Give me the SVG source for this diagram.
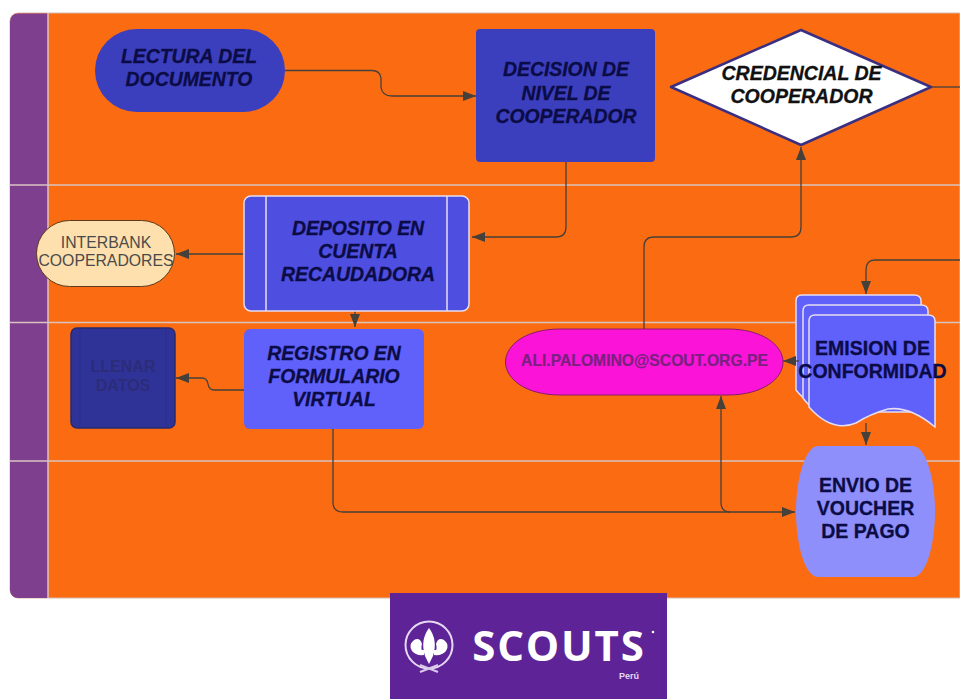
<svg xmlns="http://www.w3.org/2000/svg" width="960" height="699" viewBox="0 0 960 699">
<style>
text{font-family:"Liberation Sans",Arial,sans-serif;text-anchor:middle}
.bi{font-weight:700;font-style:italic;font-size:19.400px;fill:#0b0c45;stroke:#0b0c45;stroke-width:.3}
.b{font-weight:700;font-size:19.500px;fill:#0b0c45;stroke:#0b0c45;stroke-width:.3}
.lane{stroke:#d9c3c0;stroke-width:1.5;fill:none}
.c{fill:none;stroke:#46403a;stroke-width:1.3;marker-end:url(#a)}
.n{fill:none;stroke:#46403a;stroke-width:1.3}
</style>
<defs>
<marker id="a" markerUnits="userSpaceOnUse" markerWidth="14" markerHeight="10" refX="13" refY="5" orient="auto"><path d="M0 0L13 5L0 10Z" fill="#46403a"/></marker>
</defs>
<rect width="960" height="699" fill="#fff"/>
<g id="pool">
<path d="M960 13H18a8 8 0 0 0-8 8V590a8 8 0 0 0 8 8H960Z" fill="#fb6c12" stroke="#d8b8a8" stroke-width="1"/>
<path d="M48 13.500H18a8 8 0 0 0-8 8V590a8 8 0 0 0 8 8H48Z" fill="#7f3f8f"/>
<path class="lane" d="M48 13V598M10 185H960M10 322.500H960M10 461H960"/>
</g>
<g id="connectors">
<path class="c" d="M285 70.500H372Q380 70.500 381 78V87Q382 96 392 96H476"/>
<path class="c" d="M566 162V227Q566 237 556 237H472"/>
<path class="c" d="M244 254H176"/>
<path class="c" d="M355 295V327"/>
<path class="c" d="M244 390H214Q209 390 208 384Q207 378 202 378H176"/>
<path class="c" d="M333 428V502Q333 512 343 512H795"/>
<path class="c" d="M730 512Q721 512 721 502V396"/>
<path class="c" d="M644 329V247Q644 237 654 237H791Q801 237 801 227V147"/>
<path class="n" d="M932 87H953Q960 87 961 87"/>
<path class="c" d="M960 260H875Q866 260 866 270V294"/>
<path class="c" d="M866 423V445"/>
</g>
<g id="lectura"><rect x="95" y="29" width="190" height="83" rx="41.500" fill="#3b3fbd"/>
<text class="bi" x="189" y="63">LECTURA DEL</text><text class="bi" x="189" y="86">DOCUMENTO</text></g>
<g id="decision"><rect x="476" y="29" width="179" height="133" rx="4" fill="#3b3fbd"/>
<text class="bi" x="566" y="76">DECISION DE</text><text class="bi" x="566" y="100">NIVEL DE</text><text class="bi" x="566" y="123">COOPERADOR</text></g>
<g id="credencial"><path d="M801 30L931 87L801 145L671 87Z" fill="#fff" stroke="#3a2f80" stroke-width="2.500" stroke-linejoin="round"/>
<text x="801.500" y="80" style="font-weight:700;font-style:italic;font-size:19.500px;fill:#111;stroke:#111;stroke-width:.3">CREDENCIAL DE</text><text x="801.500" y="103" style="font-weight:700;font-style:italic;font-size:19.500px;fill:#111;stroke:#111;stroke-width:.3">COOPERADOR</text></g>
<g id="deposito"><rect x="244" y="196" width="225" height="115" rx="7" fill="#4e4ee0" stroke="#e6ddf0" stroke-width="1.500"/>
<path d="M266 196V311M447 196V311" stroke="#e6ddf0" stroke-width="1.500"/>
<text class="bi" x="358" y="235">DEPOSITO EN</text><text class="bi" x="358" y="258">CUENTA</text><text class="bi" x="358" y="281">RECAUDADORA</text></g>
<g id="interbank"><rect x="36.500" y="220.500" width="138" height="66" rx="33" fill="#fde0ae" stroke="#5b3a1e"/>
<text x="106" y="248" style="font-size:15.800px;fill:#4a4a4a">INTERBANK</text><text x="106" y="266" style="font-size:15.800px;fill:#4a4a4a">COOPERADORES</text></g>
<g id="registro"><rect x="244" y="329" width="180" height="100" rx="6" fill="#6060fb"/>
<text class="bi" x="334" y="360">REGISTRO EN</text><text class="bi" x="334" y="383">FORMULARIO</text><text class="bi" x="334" y="406">VIRTUAL</text></g>
<g id="llenar"><rect x="71" y="328" width="104" height="100" rx="6" fill="#2f3398" stroke="#2a2a6c" stroke-width="1.500"/>
<path d="M80 328V428M166 328V428" stroke="#2a2f88" stroke-width="1"/>
<text x="123" y="372" style="font-size:16px;font-weight:700;fill:#2c2c78">LLENAR</text><text x="123" y="391" style="font-size:16px;font-weight:700;fill:#2c2c78">DATOS</text></g>
<g id="correo"><path d="M560 329H728C762 329 783 345 783 362C783 379 762 395 728 395H560C526 395 505.500 379 505.500 362C505.500 345 526 329 560 329Z" fill="#fb14d8" stroke="#8a1a6a"/>
<text x="644.500" y="366" style="font-size:15.700px;font-weight:700;fill:#7a2080;stroke:#7a2080;stroke-width:.2">ALI.PALOMINO@SCOUT.ORG.PE</text></g>
<g id="emision" fill="#6060fb" stroke="#e6ddf0" stroke-width="1.500">
<path d="M796 301Q796 295 802 295H914Q921 295 921 301V405H830Q810 408 796 390Z"/>
<path d="M803 311Q803 305 809 305H921Q928 305 928 311V412H835Q815 415 803 398Z"/>
<path d="M809 321Q809 315 815 315H928Q935 315 935 321V427Q910 406 888 409Q870 414 856 423Q832 433 809 407Z"/>
</g>
<path id="emision-arrow" d="M799 361H783" class="c"/>
<g id="emision-text"><text class="b" x="872.500" y="355">EMISION DE</text><text class="b" x="872.500" y="378">CONFORMIDAD</text></g>
<g id="envio"><path d="M818 446H913C926 446 935 480 935 511C935 545 926 577 913 577H818C805 577 796 545 796 511C796 480 805 446 818 446Z" fill="#8f8ffb"/>
<text class="b" x="865.500" y="492">ENVIO DE</text><text class="b" x="865.500" y="515">VOUCHER</text><text class="b" x="865.500" y="538">DE PAGO</text></g>
<g id="logo"><rect x="390" y="593" width="277" height="106" fill="#5e2497"/>
<circle cx="429" cy="645" r="23.500" fill="none" stroke="#e6d8f2" stroke-width="2"/>
<path d="M429 628Q438 640 433 656L429 664L425 656Q420 640 429 628Z" fill="#fff"/>
<path d="M424 653Q420 649 422 644Q420 637 414 640Q408 645 412 651Q416 656 424 655ZM434 653Q438 649 436 644Q438 637 444 640Q450 645 446 651Q442 656 434 655Z" fill="#fff"/>
<rect x="420" y="650" width="18" height="3" fill="#fff"/>
<path d="M420 672L438 665M420 665L438 672" stroke="#d8c8e8" stroke-width="2" fill="none"/>
<text x="559" y="661" style="font-family:'Open Sans','Liberation Sans',sans-serif;font-weight:700;font-size:42px;letter-spacing:1.800px;fill:#fff">SCOUTS</text>
<circle cx="653" cy="632" r="1.300" fill="#fff"/>
<text x="629" y="679" style="font-weight:700;font-size:9px;fill:#e6d8f2">Perú</text></g>
</svg>
